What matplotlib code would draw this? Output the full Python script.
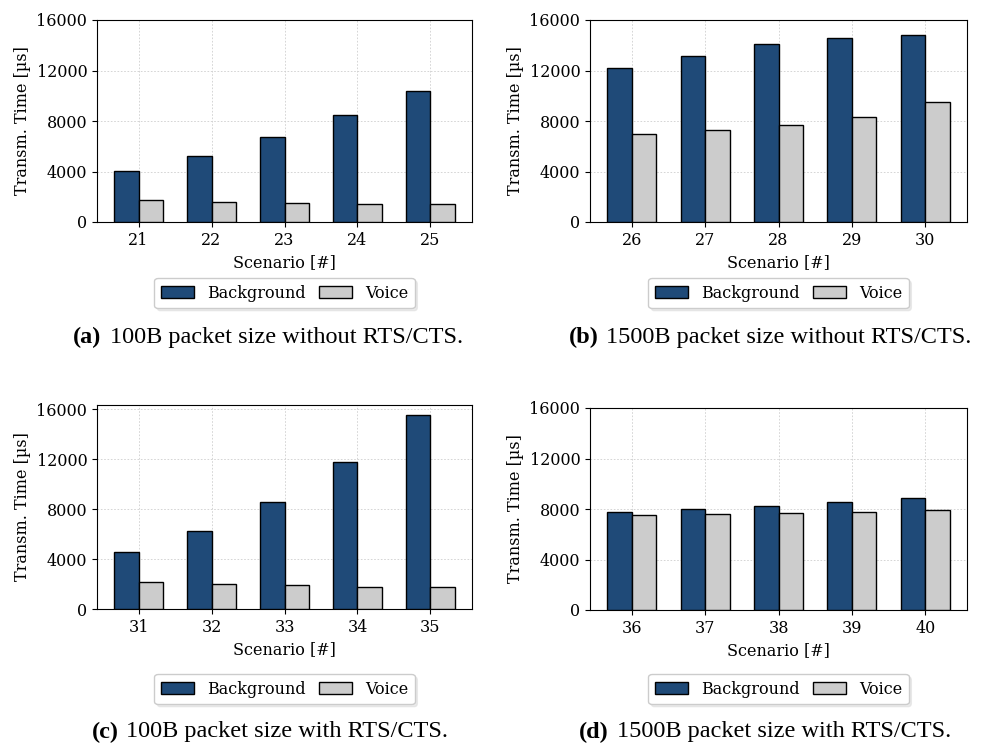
import numpy as np
import matplotlib
matplotlib.use("Agg")
import matplotlib.pyplot as plt

# scenario ids per panel
scen_a = [21, 22, 23, 24, 25]
scen_b = [26, 27, 28, 29, 30]
scen_c = [31, 32, 33, 34, 35]
scen_d = [36, 37, 38, 39, 40]

# transmission time [us]
bg_a = [4050, 5260, 6770, 8440, 10340]
vo_a = [1720, 1610, 1530, 1460, 1400]
bg_b = [12170, 13120, 14120, 14550, 14810]
vo_b = [6980, 7300, 7670, 8280, 9490]
bg_c = [4590, 6270, 8590, 11790, 15550]
vo_c = [2160, 2000, 1890, 1790, 1730]
bg_d = [7790, 8030, 8240, 8560, 8850]
vo_d = [7520, 7600, 7710, 7790, 7920]

yticks = [0, 4000, 8000, 12000, 16000]
captions = [("(a)", "100B packet size without RTS/CTS."),
            ("(b)", "1500B packet size without RTS/CTS."),
            ("(c)", "100B packet size with RTS/CTS."),
            ("(d)", "1500B packet size with RTS/CTS.")]

BLUE = "#1f4a78"
GRAY = "#cccccc"
W, H = 981, 745
CAP_FS = 17.5

plt.rcParams['font.family'] = 'DejaVu Serif'
fig = plt.figure(figsize=(W / 100, H / 100), dpi=100)


def px_axes(l, t, r, b):
    return fig.add_axes([l / W, 1 - b / H, (r - l) / W, (b - t) / H])


panels = [
    (px_axes(97, 20, 472, 222), scen_a, bg_a, vo_a, 16000, 293, 337, 268),
    (px_axes(590, 20, 967, 222), scen_b, bg_b, vo_b, 16000, 293, 337, 770),
    (px_axes(97, 405, 472, 609), scen_c, bg_c, vo_c, 16330, 689, 732, 270),
    (px_axes(590, 408, 967, 610), scen_d, bg_d, vo_d, 16000, 689, 732, 765),
]

w = 0.335
for ax, scen, bg, vo, top, leg_y, cap_y, cap_x in panels:
    x = np.arange(len(scen))
    ax.bar(x - w / 2, bg, w, color=BLUE, edgecolor='black', linewidth=1,
           label='Background', zorder=3)
    ax.bar(x + w / 2, vo, w, color=GRAY, edgecolor='black', linewidth=1,
           label='Voice', zorder=3)
    ax.set_xticks(x)
    ax.set_xticklabels([str(s) for s in scen], fontsize=11.5)
    ax.set_yticks(yticks)
    ax.set_yticklabels([str(t) for t in yticks], fontsize=11.5)
    ax.set_ylim(0, top)
    ax.set_xlabel("Scenario [#]", fontsize=11.5)
    ax.set_ylabel("Transm. Time [µs]", fontsize=11.5)
    ax.grid(True, linestyle=(0, (2, 2)), linewidth=0.6, color='#cfcfcf', zorder=0)
    pos = ax.get_position()
    cx = pos.x0 + pos.width / 2
    ax.legend(loc='center', bbox_to_anchor=(cx, 1 - leg_y / H),
              bbox_transform=fig.transFigure, ncol=2, fontsize=11.5,
              shadow={'shade': 0.15}, framealpha=1, edgecolor='#cccccc',
              handlelength=2.1, handleheight=0.8, handletextpad=0.8,
              columnspacing=0.8)

# captions: bold label, regular text, centred together
fig.canvas.draw()
r = fig.canvas.get_renderer()
for i, (ax, scen, bg, vo, top, leg_y, cap_y, cap_x) in enumerate(panels):
    lab, txt = captions[i]
    b = fig.text(0, 1 - cap_y / H, lab, fontsize=CAP_FS, weight='bold',
                 family='Liberation Serif', va='center', ha='left')
    t = fig.text(0, 1 - cap_y / H, txt, fontsize=CAP_FS,
                 family='Liberation Serif', va='center', ha='left')
    bw = b.get_window_extent(r).width
    tw = t.get_window_extent(r).width
    gap = 8
    x0 = cap_x - (bw + gap + tw) / 2
    b.set_x(x0 / W)
    t.set_x((x0 + bw + gap) / W)

fig.savefig("out.png", dpi=100)
